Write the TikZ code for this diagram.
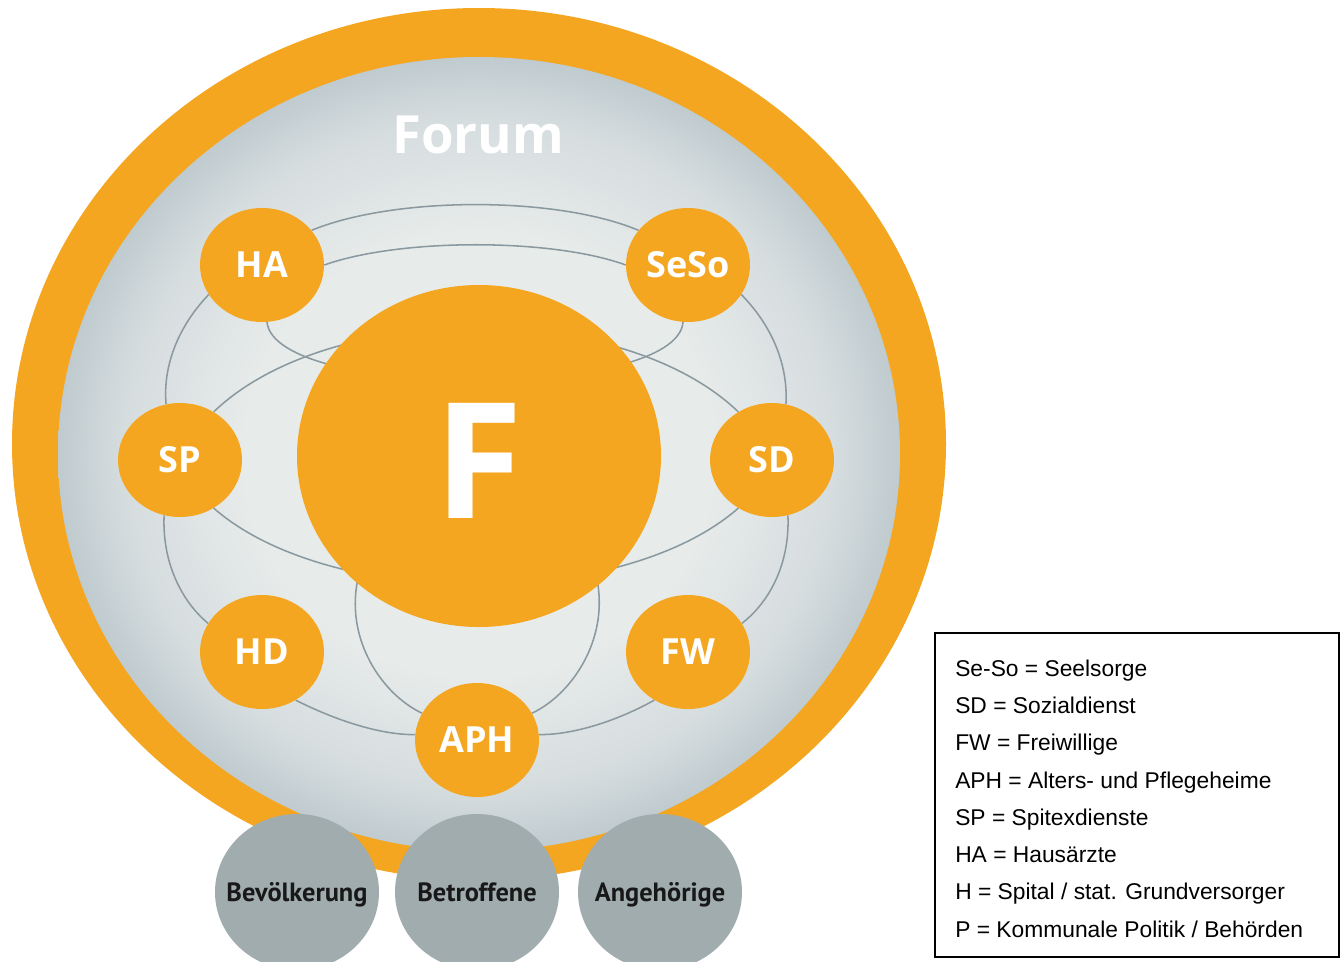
\documentclass[tikz,border=0pt]{standalone}
\usepackage{fontspec}
\setmainfont{Open Sans}
\newfontfamily\groupfont{PT Sans}
\newfontfamily\legendfont{Liberation Sans}
\usetikzlibrary{shapes.geometric}

\definecolor{forumorange}{HTML}{F4A621}
\definecolor{forumlight}{HTML}{E7EBEA}
\definecolor{forummid}{HTML}{D6DDDF}
\definecolor{forumdark}{HTML}{C0CBCF}
\definecolor{linkgray}{HTML}{8A999F}
\definecolor{groupgray}{HTML}{A0ACAE}
\definecolor{grouptext}{HTML}{181818}

\pgfdeclareradialshading{forumshade}{\pgfpoint{0bp}{0bp}}{%
  color(0bp)=(forumlight); color(14bp)=(forumlight);
  color(21bp)=(forummid); color(25bp)=(forumdark); color(50bp)=(forumdark)}

\pgfdeclarelayer{back}
\pgfdeclarelayer{links}
\pgfsetlayers{back,links,main}

\tikzset{
  member/.style={ellipse, fill=forumorange, text=white, inner sep=0pt,
    minimum width=93pt, minimum height=85.5pt,
    font=\bfseries\fontsize{27}{27}\selectfont},
  group/.style={ellipse, fill=groupgray, text=grouptext, inner sep=0pt,
    text depth=0pt, minimum width=123pt, minimum height=117pt,
    font=\groupfont\bfseries\fontsize{19.8}{20}\selectfont},
  link/.style={draw=linkgray, line width=1.15pt},
  legend/.style={anchor=base west, inner sep=0pt,
    font=\legendfont\fontsize{17.1}{18}\selectfont}
}

\begin{document}
\begin{tikzpicture}[x=0.75pt, y=-0.75pt]
    \useasboundingbox (0,0) rectangle (1344,961);

    % Draw the orange ring and the shaded forum area
    \begin{pgfonlayer}{back}
        \fill[forumorange] (479,444) ellipse [x radius=467, y radius=436];
        \shade[shading=forumshade] (479,454) ellipse [x radius=421, y radius=397];
    \end{pgfonlayer}

    % Title of the forum
    \node[text=white, font=\bfseries\fontsize{39.5}{40}\selectfont] (forum) at (478,135) {Forum};

    % Central circle F
    \node[member, minimum width=273pt, minimum height=256.5pt,
          text height=94pt, text depth=0pt,
          font=\bfseries\fontsize{121}{121}\selectfont] (F) at (479,456) {F};

    % Members around the centre
    \node[member] (HA) at (262,265) {HA};
    \node[member] (SeSo) at (688,265) {SeSo};
    \node[member] (SP) at (180,460) {SP};
    \node[member] (SD) at (772,460) {SD};
    \node[member] (HD) at (262,652) {HD};
    \node[member] (FW) at (688,652) {FW};
    \node[member] (APH) at (477,740) {APH};

    % Links between the members, behind the circles
    \begin{pgfonlayer}{links}
        \draw[link] (HA.35) .. controls (395,196) and (557,196) .. (SeSo.145);
        \draw[link] (HA.0) .. controls (400,238) and (552,238) .. (SeSo.180);
        \draw[link] (HA.275) .. controls (275,400) and (677,400) .. (SeSo.265);
        \draw[link] (SP.55) .. controls (330,300) and (622,300) .. (SD.125);
        \draw[link] (SP.305) .. controls (330,610) and (622,610) .. (SD.235);
        \draw[link] (HA.209) .. controls (175,330) and (163,370) .. (SP.104);
        \draw[link] (SeSo.331) .. controls (776,330) and (788,370) .. (SD.76);
        \draw[link] (SP.254) .. controls (162,560) and (180,600) .. (HD.152);
        \draw[link] (SD.286) .. controls (790,560) and (772,600) .. (FW.28);
        \draw[link] (HD.305) .. controls (335,720) and (380,735) .. (APH.175);
        \draw[link] (FW.235) .. controls (619,720) and (574,735) .. (APH.5);
        \draw[link] (F.center) .. controls (295,540) and (352,680) .. (APH.154);
        \draw[link] (F.center) .. controls (659,540) and (602,680) .. (APH.26);
    \end{pgfonlayer}

    % Groups below the forum
    \node[group] (bev) at (297,892) {\makebox[0pt]{Bevölkerung}};
    \node[group] (betr) at (477,892) {\makebox[0pt]{Betroffene}};
    \node[group] (angeh) at (660,892) {\makebox[0pt]{Angehörige}};

    % Legend box
    \draw[line width=0.8pt] (935,633) rectangle (1339,957);
    \node[legend] (l1) at (955,676) {Se-So = Seelsorge};
    \node[legend] (l2) at (955,713.3) {SD = Sozialdienst};
    \node[legend] (l3) at (955,750.6) {FW = Freiwillige};
    \node[legend] (l4) at (955,788) {APH = Alters- und Pflegeheime};
    \node[legend] (l5) at (955,825.2) {SP = Spitexdienste};
    \node[legend] (l6) at (955,862.5) {HA = Hausärzte};
    \node[legend] (l7) at (955,899.8) {H = Spital / stat. Grundversorger};
    \node[legend] (l8) at (955,937) {P = Kommunale Politik / Behörden};
\end{tikzpicture}
\end{document}
